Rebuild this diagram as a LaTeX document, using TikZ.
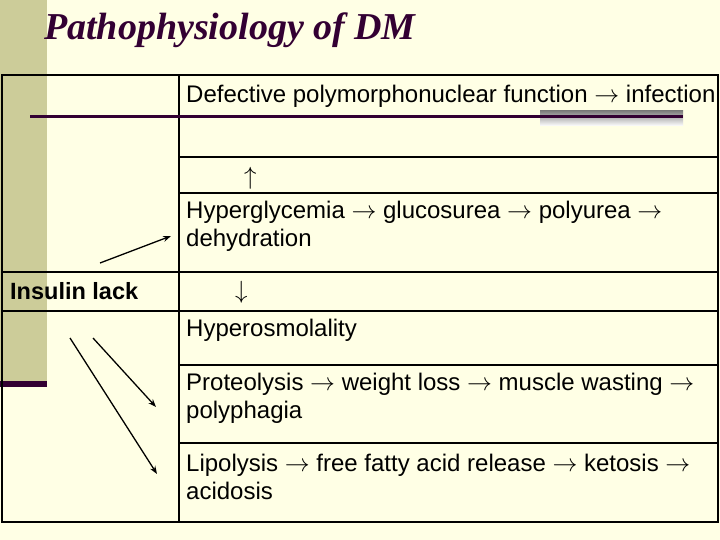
\documentclass[tikz,border=0pt]{standalone}
\usepackage{fontspec}
\setmainfont{Liberation Sans}
\newfontfamily\titlefont{Liberation Serif}
\newcommand{\ra}{$\rightarrow$}
\usetikzlibrary{arrows.meta}
\definecolor{bg}{HTML}{FFFFE5}
\definecolor{strip}{HTML}{CCCC99}
\definecolor{plum}{HTML}{330033}
\definecolor{shade}{HTML}{B2B2B2}
\tikzset{
  grid/.style={line width=2pt, black, line cap=rect},
  cell/.style={anchor=west, align=left, inner sep=0pt, font=\fontsize{24}{28}\selectfont},
  arr/.style={line width=1.3pt, -{Stealth[length=8pt,width=6pt]}},
}
\begin{document}
\begin{tikzpicture}[x=1pt,y=-1pt]
\useasboundingbox (0,0) rectangle (720,540);
\fill[bg] (0,0) rectangle (720,540);
\fill[strip] (0,0) rectangle (47,384);
\fill[plum] (0,381) rectangle (47,387);
% title
\node[anchor=west, inner sep=0pt, text=plum, font=\titlefont\bfseries\itshape\fontsize{38}{42}\selectfont] (title) at (44,30) {Pathophysiology of DM};
% table
\draw[grid] (2,75) rectangle (718,522);
\draw[grid] (179,75) -- (179,522);
\draw[grid] (179,157) -- (718,157);
\draw[grid] (179,193) -- (718,193);
\draw[grid] (2,272) -- (718,272);
\draw[grid] (2,311) -- (718,311);
\draw[grid] (179,365) -- (718,365);
\draw[grid] (179,443) -- (718,443);
% decorative line
\fill[shade] (540,111) rectangle (683,126);
\draw[plum, line width=3pt] (30,117) -- (683,117);
% texts
\node[cell] (infect) at (186,96) {Defective polymorphonuclear function \ra{} infection};
\node[cell] (up) at (244,178) {$\uparrow$};
\node[cell] (hyper) at (186,226) {Hyperglycemia \ra{} glucosurea \ra{} polyurea \ra\\dehydration};
\node[cell] (down) at (235,292) {$\downarrow$};
\node[cell] (osmo) at (186,330) {Hyperosmolality};
\node[cell] (prot) at (186,398) {Proteolysis \ra{} weight loss \ra{} muscle wasting \ra\\polyphagia};
\node[cell] (lipo) at (186,477) {Lipolysis \ra{} free fatty acid release \ra{} ketosis \ra\\acidosis};
\node[cell, font=\bfseries\fontsize{23.5}{28}\selectfont] (insulin) at (10,291) {Insulin lack};
% arrows
\coordinate (a1s) at (100,263);
\coordinate (a1e) at (171,236);
\coordinate (a2s) at (93,338);
\coordinate (a2e) at (156,407);
\coordinate (a3s) at (70,338);
\coordinate (a3e) at (157,474);
\draw[arr] (a1s) -- (a1e);
\draw[arr] (a2s) -- (a2e);
\draw[arr] (a3s) -- (a3e);
\end{tikzpicture}
\end{document}
